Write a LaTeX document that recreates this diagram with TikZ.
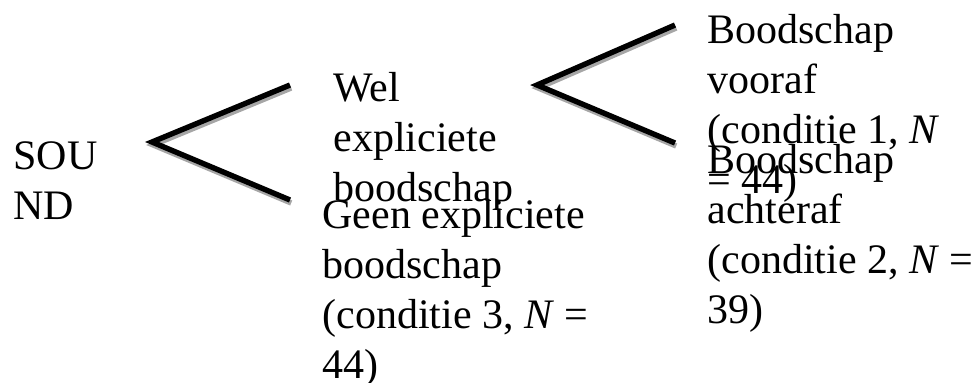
\documentclass[tikz,border=0pt]{standalone}
\usepackage{fontspec}
\setmainfont{Liberation Serif}
\usetikzlibrary{positioning}
\tikzstyle{textblock} = [anchor=base west, inner sep=0pt, align=left, font=\fontsize{21pt}{25pt}\selectfont]
\tikzstyle{fork} = [line width=2.7pt, black]
\tikzstyle{forkshadow} = [line width=2.7pt, black!35, transform canvas={xshift=0.6pt, yshift=-1.5pt}]

\begin{document}
\begin{tikzpicture}[x=0.5pt, y=-0.5pt]
    \useasboundingbox (0,0) rectangle (979,382);
    % free ends of the two forks
    \coordinate (apexA) at (152,142);
    \coordinate (welend) at (290,85);
    \coordinate (geenend) at (290,200);
    \coordinate (apexB) at (537,85);
    \coordinate (voorafend) at (675,25);
    \coordinate (achterafend) at (675,143);

    \foreach \a/\b/\c in {welend/apexA/geenend, voorafend/apexB/achterafend} {
        \draw[forkshadow] (\a) -- (\b) -- (\c);
        \draw[fork] (\a) -- (\b) -- (\c);
    }

    % base anchor sits on the last line
    \node[textblock] (sound) at (13,219) {SOU\\ND};
    \node[textblock] (wel) at (333,201) {Wel\\expliciete\\boodschap};
    \node[textblock] (geen) at (322,378) {Geen expliciete\\boodschap\\(conditie 3, \textit{N} =\\44)};
    \node[textblock] (vooraf) at (707,193) {Boodschap\\vooraf\\(conditie 1, \textit{N}\\= 44)};
    \node[textblock] (achteraf) at (707,323) {Boodschap\\achteraf\\(conditie 2, \textit{N} =\\39)};
\end{tikzpicture}
\end{document}
